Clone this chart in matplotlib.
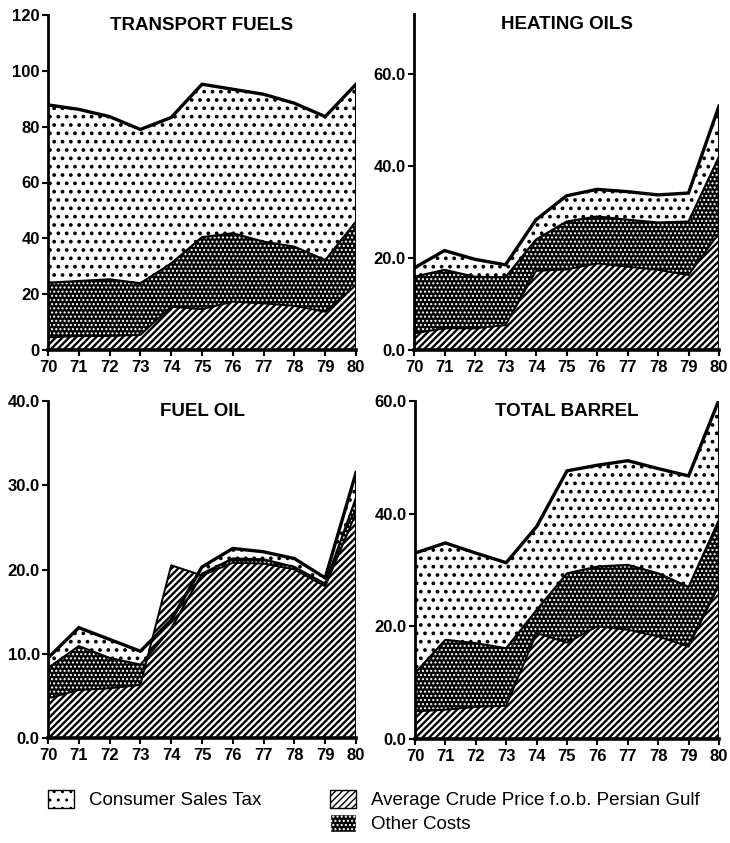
import matplotlib
matplotlib.use("Agg")
import matplotlib.pyplot as plt
import matplotlib.patches as mpatches

# years on the x axis
years = [70, 71, 72, 73, 74, 75, 76, 77, 78, 79, 80]
year_labels = ["70", "71", "72", "73", "74", "75", "76", "77", "78", "79", "80"]

# each panel: top of crude band, top of other-costs band, top of tax band (cumulative)
transport_crude = [4.5, 5.0, 5.0, 5.4, 15.5, 14.6, 17.3, 16.7, 15.8, 13.7, 23.3]
transport_other = [24.1, 24.7, 25.3, 23.9, 31.0, 40.4, 41.8, 38.8, 37.0, 32.2, 46.0]
transport_total = [87.8, 86.2, 83.6, 79.0, 83.3, 95.2, 93.4, 91.6, 88.4, 83.6, 95.2]

heating_crude = [3.6, 4.7, 4.7, 5.4, 17.2, 17.5, 18.8, 18.1, 17.4, 16.3, 25.4]
heating_other = [15.9, 17.4, 15.9, 15.8, 24.0, 27.9, 29.0, 28.3, 27.7, 27.9, 42.0]
heating_total = [17.8, 21.6, 19.7, 18.5, 28.3, 33.5, 34.9, 34.4, 33.7, 34.1, 53.0]

fuel_crude = [4.7, 5.7, 5.9, 6.3, 20.5, 19.3, 20.8, 20.7, 20.0, 18.0, 26.7]
fuel_other = [8.3, 10.9, 9.5, 8.7, 13.0, 19.5, 21.3, 21.2, 20.3, 18.3, 28.5]
fuel_total = [9.5, 13.1, 11.7, 10.3, 14.0, 20.3, 22.5, 22.1, 21.3, 19.0, 31.5]

barrel_crude = [4.9, 5.2, 5.7, 5.9, 18.8, 17.1, 20.0, 19.4, 18.2, 16.4, 27.3]
barrel_other = [11.7, 17.6, 17.0, 16.1, 22.9, 29.4, 30.6, 30.9, 29.4, 27.0, 38.9]
barrel_total = [33.0, 34.8, 33.0, 31.3, 37.7, 47.6, 48.6, 49.4, 48.0, 46.7, 60.2]

titles = ["TRANSPORT FUELS", "HEATING OILS", "FUEL OIL", "TOTAL BARREL"]
yticks = [[0, 20, 40, 60, 80, 100, 120], [0, 20, 40, 60], [0, 10, 20, 30, 40], [0, 20, 40, 60]]
ytick_fmt = ["{:.0f}", "{:.1f}", "{:.1f}", "{:.1f}"]
ylims = [120, 73, 40, 60]

legend_labels = ["Consumer Sales Tax", "Average Crude Price f.o.b. Persian Gulf", "Other Costs"]

fam = ["Liberation Sans", "DejaVu Sans"]

fig = plt.figure(figsize=(7.3, 8.43), dpi=100)

# axes rectangles in figure fractions (left, bottom, width, height)
rects = [
    (48 / 730, (843 - 350) / 843, 308 / 730, 335 / 843),
    (414 / 730, (843 - 350) / 843, 305 / 730, 336 / 843),
    (48 / 730, (843 - 738) / 843, 308 / 730, 337 / 843),
    (415 / 730, (843 - 739) / 843, 304 / 730, 338 / 843),
]

panels = [
    (transport_crude, transport_other, transport_total),
    (heating_crude, heating_other, heating_total),
    (fuel_crude, fuel_other, fuel_total),
    (barrel_crude, barrel_other, barrel_total),
]

TAX_HATCH, OTHER_HATCH, CRUDE_HATCH = "..", "....", "/////"


def draw_panel(ax, crude, other, total, title, ticks, fmt, ytop):
    zero = [0] * len(years)
    # tax band: sparse black dots on white
    with plt.rc_context({"hatch.linewidth": 1.5}):
        ax.fill_between(years, zero, total, facecolor="white", edgecolor="black",
                        hatch=TAX_HATCH, linewidth=0, zorder=1)
    # other costs: black with small white dots
    with plt.rc_context({"hatch.linewidth": 1.0}):
        ax.fill_between(years, zero, other, facecolor="black", edgecolor="white",
                        hatch=OTHER_HATCH, linewidth=0, zorder=2)
    # crude: dense diagonal lines
    with plt.rc_context({"hatch.linewidth": 1.7}):
        ax.fill_between(years, zero, crude, facecolor="white", edgecolor="black",
                        hatch=CRUDE_HATCH, linewidth=0, zorder=3)
    ax.plot(years, crude, color="black", lw=1.4, zorder=4)
    ax.plot(years, other, color="black", lw=1.6, zorder=4)
    ax.plot(years, total, color="black", lw=2.4, zorder=5, solid_joinstyle="miter")
    ax.plot([years[-1], years[-1]], [0, total[-1]], color="black", lw=2.2, zorder=5)

    ax.set_xlim(years[0], years[-1])
    ax.set_ylim(0, ytop)
    ax.spines["top"].set_visible(False)
    ax.spines["right"].set_visible(False)
    ax.spines["left"].set_linewidth(2.0)
    ax.spines["bottom"].set_linewidth(2.6)
    ax.spines["left"].set_zorder(6)
    ax.spines["bottom"].set_zorder(6)

    ax.set_xticks(years)
    ax.set_xticklabels(year_labels, family=fam, fontweight="bold", fontsize=12)
    ax.set_yticks(ticks)
    ax.set_yticklabels([fmt.format(t) for t in ticks], family=fam,
                       fontweight="bold", fontsize=12)
    ax.tick_params(axis="both", direction="out", length=4, width=1.5, pad=2)
    ax.tick_params(axis="x", pad=3)
    ax.text(0.5, 0.995, title, transform=ax.transAxes, ha="center", va="top",
            family=fam, fontweight="bold", fontsize=13.5, zorder=7)


for i in range(4):
    ax = fig.add_axes(rects[i])
    crude, other, total = panels[i]
    draw_panel(ax, crude, other, total, titles[i], yticks[i], ytick_fmt[i], ylims[i])

# legend patches
with plt.rc_context({"hatch.linewidth": 1.5}):
    tax_patch = mpatches.Patch(facecolor="white", edgecolor="black", hatch=TAX_HATCH, label=legend_labels[0])
with plt.rc_context({"hatch.linewidth": 1.7}):
    crude_patch = mpatches.Patch(facecolor="white", edgecolor="black", hatch=CRUDE_HATCH, label=legend_labels[1])
with plt.rc_context({"hatch.linewidth": 1.0}):
    other_patch = mpatches.Patch(facecolor="black", edgecolor="white", hatch=OTHER_HATCH, label=legend_labels[2])

leg_kw = dict(frameon=False, handlelength=1.4, handleheight=1.1, handletextpad=0.8,
              labelspacing=0.25, prop={"family": fam, "size": 13.5},
              loc="upper left", borderaxespad=0, borderpad=0)
fig.legend(handles=[tax_patch], bbox_to_anchor=(48 / 730, 1 - 790 / 843), **leg_kw)
fig.legend(handles=[crude_patch, other_patch], bbox_to_anchor=(330 / 730, 1 - 790 / 843), **leg_kw)

fig.savefig("out.png", dpi=100)
